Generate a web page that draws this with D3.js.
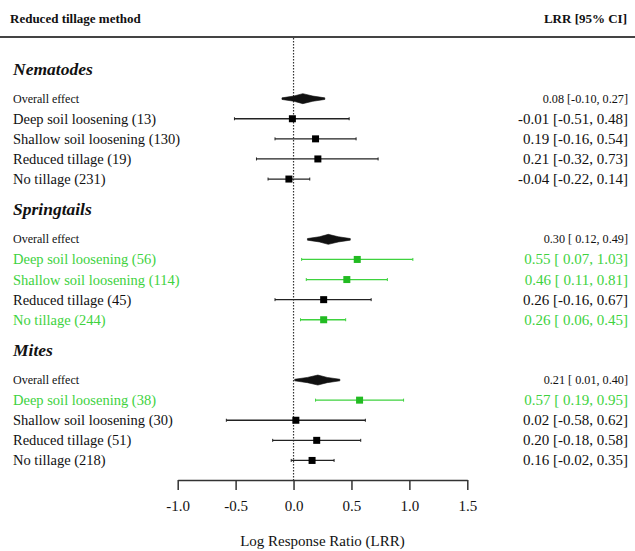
<!DOCTYPE html>
<html>
<head>
<meta charset="utf-8">
<script src="https://cdn.jsdelivr.net/npm/d3@7"></script>
<style>
  html, body { margin: 0; padding: 0; background: #fff; }
  svg { display: block; }
  text { font-family: "Liberation Serif", "Times New Roman", serif; }
</style>
</head>
<body>
<svg id="chart" width="635" height="551"></svg>
<script>
// ---- data ----
const groups = ["Nematodes", "Springtails", "Mites"];
const methods = ["Deep soil loosening", "Shallow soil loosening", "Reduced tillage", "No tillage"];
const counts = [[13, 130, 19, 231], [56, 114, 45, 244], [38, 30, 51, 218]];
const estimates = [[-0.01, 0.19, 0.21, -0.04], [0.55, 0.46, 0.26, 0.26], [0.57, 0.02, 0.20, 0.16]];
const lowerCI = [[-0.51, -0.16, -0.32, -0.22], [0.07, 0.11, -0.16, 0.06], [0.19, -0.58, -0.18, -0.02]];
const upperCI = [[0.48, 0.54, 0.73, 0.14], [1.03, 0.81, 0.67, 0.45], [0.95, 0.62, 0.58, 0.35]];
const overallEst = [0.08, 0.30, 0.21];
const overallLo = [-0.10, 0.12, 0.01];
const overallHi = [0.27, 0.49, 0.40];
const xTicks = [-1.0, -0.5, 0.0, 0.5, 1.0, 1.5];

// ---- layout ----
const svg = d3.select("#chart");
const W = 635, H = 551;
const black = "#111";
const green = "#3ED23E";
const greenSq = "#22BB22";

const x = d3.scaleLinear().domain([-1.0, 1.5]).range([177.7, 467.3]);
const y = d3.scaleLinear().domain([0, 1]).range([68.5, 88.6]); // slot units
const axisY = 480;

function fmt(v) { return (v < 0 ? "-" : "") + Math.abs(v).toFixed(2); }
function ciText(e, lo, hi) {
  return fmt(e) + " [" + (lo >= 0 ? " " : "") + fmt(lo) + ", " + fmt(hi) + "]";
}

// header
svg.append("text").attr("x", 10).attr("y", 23)
  .attr("font-size", 13).attr("font-weight", "bold").attr("fill", black)
  .text("Reduced tillage method");
svg.append("text").attr("x", 627).attr("y", 23).attr("text-anchor", "end")
  .attr("font-size", 13).attr("font-weight", "bold").attr("fill", black)
  .text("LRR [95% CI]");
svg.append("line").attr("x1", 0).attr("x2", W).attr("y1", 37).attr("y2", 37)
  .attr("stroke", "#444").attr("stroke-width", 2);

// zero reference line
svg.append("line").attr("x1", x(0)).attr("x2", x(0)).attr("y1", 38).attr("y2", axisY)
  .attr("stroke", "#333").attr("stroke-width", 1.2).attr("stroke-dasharray", "1.5,1.5");

groups.forEach((g, gi) => {
  const base = gi * 7;
  // group title
  svg.append("text").attr("x", 13).attr("y", y(base) + 6)
    .attr("font-size", 17.5).attr("font-weight", "bold").attr("font-style", "italic")
    .attr("fill", black).text(g);

  // overall effect
  const oy = y(base + 1.5);
  svg.append("text").attr("x", 13).attr("y", oy + 4)
    .attr("font-size", 12).attr("fill", black).text("Overall effect");
  const lo = x(overallLo[gi]), hi = x(overallHi[gi]), c = x(overallEst[gi]);
  const w = hi - lo;
  const pts = [
    [lo, oy - 0.8], [lo + 0.28 * w, oy - 2.6], [c, oy - 5], [hi - 0.28 * w, oy - 2.6], [hi, oy - 0.8],
    [hi, oy + 0.8], [hi - 0.28 * w, oy + 2.6], [c, oy + 5], [lo + 0.28 * w, oy + 2.6], [lo, oy + 0.8]
  ];
  svg.append("polygon").attr("points", pts.map(p => p.join(",")).join(" "))
    .attr("fill", black).attr("stroke", black).attr("stroke-width", 0.6)
    .attr("stroke-linejoin", "round");
  svg.append("text").attr("x", 628).attr("y", oy + 4).attr("text-anchor", "end")
    .attr("font-size", 12.2).attr("fill", black)
    .text(ciText(overallEst[gi], overallLo[gi], overallHi[gi]));

  // individual methods
  methods.forEach((m, mi) => {
    const ry = y(base + 2.5 + mi);
    const e = estimates[gi][mi], l = lowerCI[gi][mi], u = upperCI[gi][mi];
    const sig = l > 0;
    const col = sig ? green : black;
    const lineCol = sig ? green : "#222";
    svg.append("text").attr("x", 13).attr("y", ry + 5)
      .attr("font-size", 14.5).attr("fill", col)
      .text(m + " (" + counts[gi][mi] + ")");
    svg.append("line").attr("x1", x(l)).attr("x2", x(u)).attr("y1", ry).attr("y2", ry)
      .attr("stroke", lineCol).attr("stroke-width", 1.3);
    [l, u].forEach(v => {
      svg.append("line").attr("x1", x(v)).attr("x2", x(v)).attr("y1", ry - 1.5).attr("y2", ry + 1.5)
        .attr("stroke", lineCol).attr("stroke-width", 1);
    });
    const s = 7;
    svg.append("rect").attr("x", x(e) - s / 2).attr("y", ry - s / 2)
      .attr("width", s).attr("height", s)
      .attr("fill", sig ? greenSq : "#000");
    svg.append("text").attr("x", 628).attr("y", ry + 5).attr("text-anchor", "end")
      .attr("font-size", 15).attr("fill", col)
      .text(ciText(e, l, u));
  });
});

// x axis
const axis = d3.axisBottom(x).tickValues(xTicks).tickSizeInner(10).tickSizeOuter(0)
  .tickPadding(10).tickFormat(v => (v < 0 ? "-" : "") + Math.abs(v).toFixed(1));
const ax = svg.append("g").attr("transform", `translate(0,${axisY})`).call(axis);
ax.select(".domain").attr("stroke", "#333").attr("stroke-width", 1.5);
ax.selectAll(".tick line").attr("stroke", "#333").attr("stroke-width", 1.5);
ax.selectAll(".tick text").attr("font-family", "Liberation Serif, serif")
  .attr("font-size", 15).attr("fill", black);

svg.append("text").attr("x", x(0.25)).attr("y", 546).attr("text-anchor", "middle")
  .attr("font-size", 15).attr("fill", black).text("Log Response Ratio (LRR)");
</script>
</body>
</html>
